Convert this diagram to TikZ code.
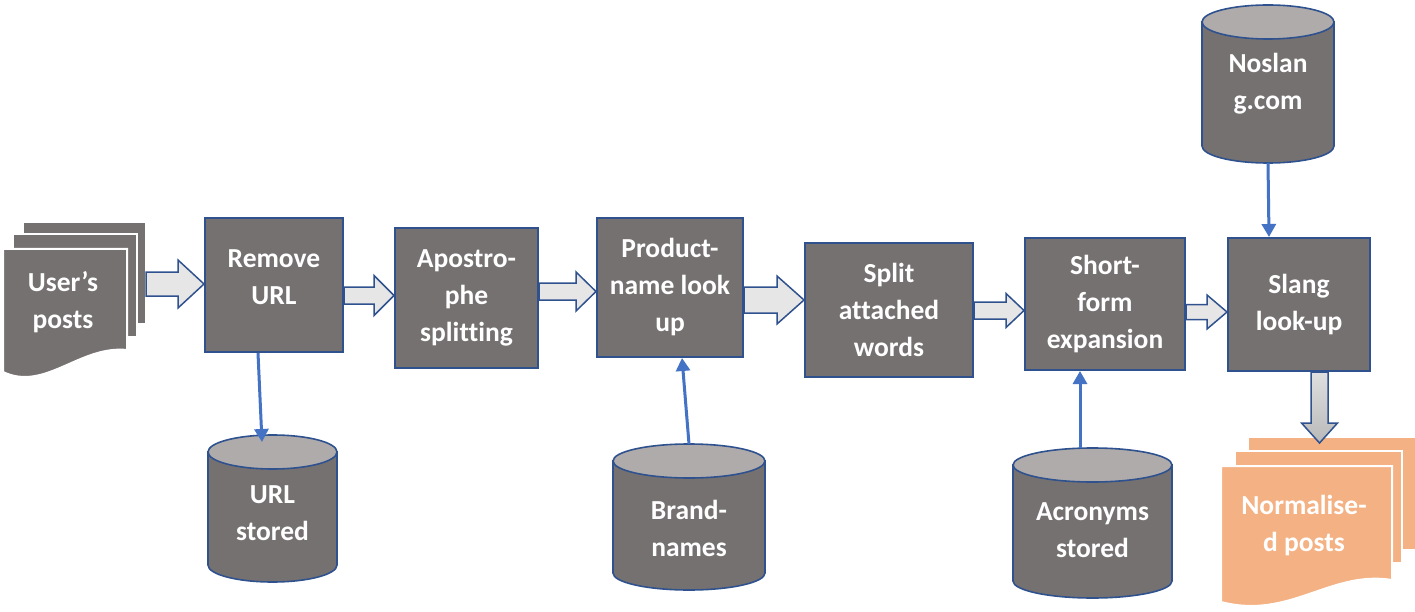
\documentclass[tikz,border=0pt]{standalone}
\usepackage{fontspec}
\setmainfont{Carlito}[Ligatures=NoCommon]
\usepackage{xcolor}
\usetikzlibrary{arrows.meta,positioning,calc}
\definecolor{boxgray}{RGB}{118, 113, 113}
\definecolor{topgray}{RGB}{175, 171, 171}
\definecolor{edgeblue}{RGB}{47, 82, 143}
\definecolor{linkblue}{RGB}{68, 114, 196}
\definecolor{arrowgray}{RGB}{231, 230, 230}
\definecolor{postorange}{RGB}{244, 177, 131}

% fat arrows: start, end, shaft half width, head half width, head length
\newcommand{\hfat}[6][]{%
    \draw[blockarr,#1] let \p1=(#2), \p2=(#3) in
        (\x1,\y1-#4) -- (\x2-#6,\y1-#4) -- (\x2-#6,\y1-#5) -- (\x2,\y1)
        -- (\x2-#6,\y1+#5) -- (\x2-#6,\y1+#4) -- (\x1,\y1+#4) -- cycle;}
\newcommand{\vfat}[6][]{%
    \draw[blockarr,#1] let \p1=(#2), \p2=(#3) in
        (\x1-#4,\y1) -- (\x1-#4,\y2+#6) -- (\x1-#5,\y2+#6) -- (\x1,\y2)
        -- (\x1+#5,\y2+#6) -- (\x1+#4,\y2+#6) -- (\x1+#4,\y1) -- cycle;}

\begin{document}
\begin{tikzpicture}[x=1pt, y=-1pt,
    every node/.style={font=\bfseries\fontsize{27.5}{37}\selectfont, text=white, align=center},
    procbox/.style={draw=edgeblue, line width=2pt, fill=boxgray, inner sep=0pt},
    storebody/.style={draw=edgeblue, fill=boxgray, line width=1.6pt},
    storetop/.style={draw=edgeblue, fill=topgray, line width=1.6pt},
    link/.style={draw=linkblue, line width=3pt, -{Triangle[length=13pt, width=14pt]}},
    blockarr/.style={draw=edgeblue, fill=arrowgray, line width=1.5pt}]

    \fill[white] (0,0) rectangle (1415,612);
    \useasboundingbox (0,0) rectangle (1415,612);

    % Input posts
    \filldraw[boxgray, draw=white, line width=2pt] (23,222) rectangle (146,324);
    \filldraw[boxgray, draw=white, line width=2pt] (13,234) rectangle (137,337);
    \filldraw[boxgray, draw=white, line width=2pt] (3,249) -- (127,249) -- (127,350)
        .. controls (80,345) and (45,392) .. (3,372) -- cycle;
    \node (users) at (63,302) {User's\\posts};
    \coordinate (users-out) at (146,284);

    % Output posts
    \filldraw[postorange, draw=white, line width=2pt] (1248,437) rectangle (1417,550);
    \filldraw[postorange, draw=white, line width=2pt] (1235,451) rectangle (1402,563);
    \filldraw[postorange, draw=white, line width=2pt] (1221,466) -- (1392,466) -- (1392,580)
        .. controls (1330,570) and (1290,620) .. (1221,602) -- cycle;
    \node (normposts) at (1304,526) {Normalise-\\d posts};
    \coordinate (norm-in) at (1319.5,443);

    % Processing steps
    \node[procbox, minimum width=138pt, minimum height=134pt, text depth=15pt] (remove) at (274,285) {Remove\\URL};
    \node[procbox, minimum width=143pt, minimum height=140pt] (apos) at (466.5,298) {Apostro-\\phe\\splitting};
    \node[procbox, minimum width=146pt, minimum height=139pt] (product) at (670,287.5) {Product-\\name look\\up};
    \node[procbox, minimum width=168pt, minimum height=134pt] (split) at (889,310) {Split\\attached\\words};
    \node[procbox, minimum width=160pt, minimum height=132pt] (short) at (1105,304) {Short-\\form\\expansion};
    \node[procbox, minimum width=142pt, minimum height=133pt] (slang) at (1299,304.5) {Slang\\look-up};

    % Stores (name / centre x / top / bottom / half width / text y / text)
    \foreach \name/\cx/\top/\bot/\w/\ty/\txt in {
        url/272.5/435/582/64.5/513/{URL\\stored},
        brand/689/444/590/76/528/{Brand-\\names},
        acro/1092.5/448/598/79.5/530/{Acronyms\\stored},
        noslang/1268/5/163/66/84/{Noslan\\g.com}} {
        \filldraw[storebody] (\cx-\w,\top+17) -- (\cx-\w,\bot-17)
            arc[start angle=180, end angle=0, x radius=\w, y radius=17] -- (\cx+\w,\top+17) -- cycle;
        \filldraw[storetop] (\cx,\top+17) ellipse[x radius=\w, y radius=17];
        \node (\name) at (\cx,\ty) {\txt};
        \coordinate (\name-top) at (\cx,\top);
        \coordinate (\name-bot) at (\cx,\bot);
    }

    % Block arrows
    \hfat{users-out}{remove.west}{12pt}{24pt}{26pt}
    \hfat{[yshift=-10.5pt]remove.east}{apos.west}{8.5pt}{20pt}{20pt}
    \hfat{[yshift=6.5pt]apos.east}{product.west}{8.5pt}{19.5pt}{20pt}
    \hfat{[yshift=-12.5pt]product.east}{split.west}{13pt}{24pt}{27pt}
    \hfat{[yshift=-0.5pt]split.east}{short.west}{8.5pt}{17pt}{18pt}
    \hfat{[yshift=-8pt]short.east}{slang.west}{7.5pt}{17pt}{20pt}
    \vfat[top color=gray!25, bottom color=gray!55]{[xshift=20.5pt]slang.south}{norm-in}{8.5pt}{18pt}{20pt}

    % Look-ups
    \draw[link] ([xshift=-16pt]remove.south) -- ([xshift=-10.5pt, yshift=-7pt]url-top);
    \draw[link] (brand-top) -- ([xshift=12pt]product.south);
    \draw[link] ([xshift=-12.5pt]acro-top) -- ([xshift=-25pt]short.south);
    \draw[link] (noslang-bot) -- ([xshift=-30pt]slang.north);
\end{tikzpicture}
\end{document}
